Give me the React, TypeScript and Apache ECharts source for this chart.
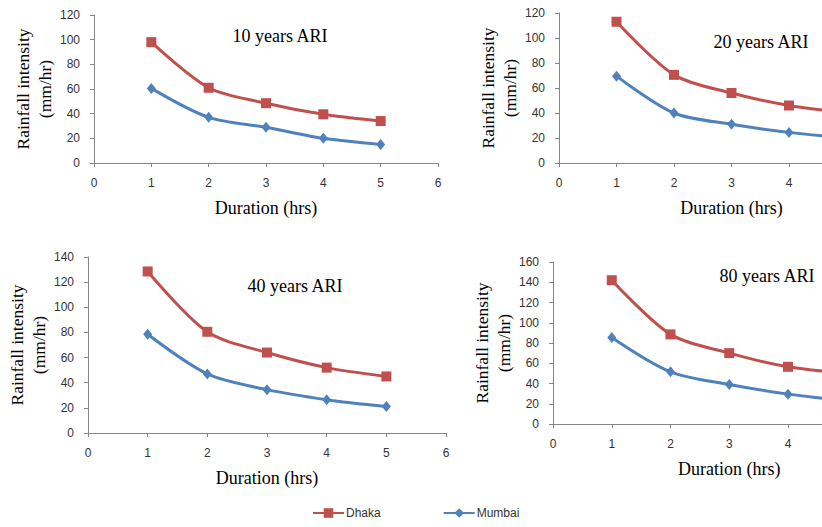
import React, { useEffect, useRef } from "react";
import * as echarts from "echarts";

const durations = [1, 2, 3, 4, 5];
const xTicksMax = 6;

const dhaka10 = [98, 61, 48.5, 39.5, 34];
const mumbai10 = [60.5, 37, 29, 20, 15];
const dhaka20 = [113, 70.5, 56, 46, 40];
const mumbai20 = [69.5, 40, 31, 24.5, 20];
const dhaka40 = [128.5, 80.5, 64, 52, 45];
const mumbai40 = [78.5, 47, 34.5, 26.5, 21];
const dhaka80 = [142, 88.5, 70, 56.5, 50];
const mumbai80 = [85.5, 51.5, 39, 29.5, 23];

const panelTitles = ["10 years ARI", "20 years ARI", "40 years ARI", "80 years ARI"];
const yMaxes = [120, 120, 140, 160];
const yIntervals = [20, 20, 20, 20];
// highest x tick label that fits in the visible picture for each panel
const xLabelLimit = [6, 4, 6, 4];
const xAxisTitle = "Duration (hrs)";
const yAxisTitle = "Rainfall intensity\n(mm/hr)";
const seriesNames = ["Dhaka", "Mumbai"];

const RED = "#C0504D";
const BLUE = "#4F81BD";
const AXIS = "#868686";
const SERIF = "'Liberation Serif', 'Times New Roman', serif";
const SANS = "'Liberation Sans', Arial, sans-serif";

const grids = [
  { left: 94, top: 15, width: 344, height: 148 },
  { left: 559, top: 13, width: 345, height: 150 },
  { left: 88, top: 257, width: 358, height: 176 },
  { left: 553, top: 262, width: 352.5, height: 162 },
];
const titlePos = [
  [280, 36],
  [761, 42],
  [295, 286],
  [767, 276],
];

export default function App() {
  const ref = useRef<HTMLDivElement>(null);
  useEffect(() => {
    if (!ref.current) return;
    const chart = echarts.init(ref.current, undefined, { renderer: "svg" });
    const dhakaSets = [dhaka10, dhaka20, dhaka40, dhaka80];
    const mumbaiSets = [mumbai10, mumbai20, mumbai40, mumbai80];
    const series: any[] = [];
    for (let i = 0; i < 4; i++) {
      series.push({
        name: seriesNames[0],
        type: "line",
        xAxisIndex: i,
        yAxisIndex: i,
        smooth: 0.3,
        symbol: "rect",
        symbolSize: 10,
        lineStyle: { color: RED, width: 3 },
        itemStyle: { color: RED },
        data: durations.map((d, k) => [d, dhakaSets[i][k]]),
      });
      series.push({
        name: seriesNames[1],
        type: "line",
        xAxisIndex: i,
        yAxisIndex: i,
        smooth: 0.3,
        symbol: "diamond",
        symbolSize: [9, 11],
        lineStyle: { color: BLUE, width: 3 },
        itemStyle: { color: BLUE },
        data: durations.map((d, k) => [d, mumbaiSets[i][k]]),
      });
    }
    const axisCommon = {
      axisLine: { show: true, lineStyle: { color: AXIS, width: 1 } },
      axisTick: { show: true, inside: false, length: 4, lineStyle: { color: AXIS } },
      splitLine: { show: false },
    };
    chart.setOption({
      animation: false,
      backgroundColor: "#ffffff",
      grid: grids.map((g) => ({ ...g, containLabel: false })),
      xAxis: grids.map((_, i) => ({
        type: "value",
        gridIndex: i,
        min: 0,
        max: xTicksMax,
        interval: 1,
        ...axisCommon,
        axisLabel: {
          color: "#333",
          fontFamily: SANS,
          fontSize: 12,
          margin: 14,
          formatter: (v: number) => (v <= xLabelLimit[i] ? String(v) : ""),
        },
        name: xAxisTitle,
        nameLocation: "middle",
        nameGap: 36,
        nameTextStyle: { color: "#000", fontFamily: SERIF, fontSize: 18, fontWeight: "normal" },
      })),
      yAxis: grids.map((_, i) => ({
        type: "value",
        gridIndex: i,
        min: 0,
        max: yMaxes[i],
        interval: yIntervals[i],
        ...axisCommon,
        axisLabel: { color: "#333", fontFamily: SANS, fontSize: 12, margin: 14 },
        name: yAxisTitle,
        nameLocation: "middle",
        nameRotate: 90,
        nameGap: 38,
        nameTextStyle: {
          color: "#000",
          fontFamily: SERIF,
          fontSize: 17.5,
          fontWeight: "normal",
          lineHeight: 22,
        },
      })),
      graphic: panelTitles.map((t, i) => ({
        type: "text",
        x: titlePos[i][0],
        y: titlePos[i][1],
        style: {
          text: t,
          fill: "#000",
          font: `18px ${SERIF}`,
          align: "center",
          verticalAlign: "middle",
        },
      })),
      legend: {
        data: seriesNames,
        left: 312,
        top: 507,
        padding: 0,
        itemWidth: 31,
        itemHeight: 12,
        itemGap: 62,
        textStyle: { color: "#333", fontFamily: SANS, fontSize: 12, padding: [0, 0, 0, -3] },
      },
      series,
    });
    return () => chart.dispose();
  }, []);
  return (
    <div style={{ position: "absolute", left: 0, top: 0, width: 822, height: 527, overflow: "hidden" }}>
      <div ref={ref} style={{ width: 920, height: 527 }} />
    </div>
  );
}
